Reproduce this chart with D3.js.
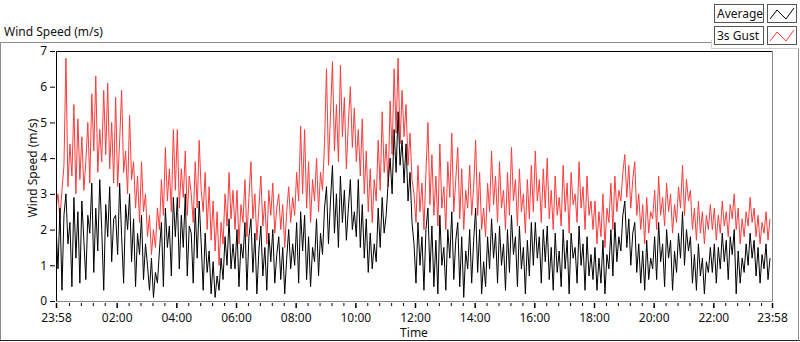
<!DOCTYPE html>
<html><head><meta charset="utf-8">
<script src="https://cdn.jsdelivr.net/npm/d3@7"></script>
<style>
html,body{margin:0;padding:0;background:#fff;}
svg{display:block;font-family:"Noto Sans","Open Sans",sans-serif;}
</style></head>
<body><svg id="c" width="800" height="342"></svg>
<script>
// Sampling: one value every 4 minutes starting at 23:58
const stepMinutes = 4;
const gust = [
2.6,3.0,2.3,3.1,3.8,6.8,3.2,4.4,3.5,5.5,3.0,5.1,3.4,4.6,3.1,3.9,5.0,3.3,5.8,4.2,6.3,3.6,4.8,3.9,5.9,4.1,6.1,3.7,5.0,3.3,
5.7,3.2,4.5,5.9,3.6,4.2,3.0,5.2,3.4,3.9,2.6,3.5,2.2,3.9,2.5,3.0,1.8,2.4,1.3,2.0,1.5,2.6,2.0,3.4,2.4,4.3,2.8,3.7,2.5,4.8,
3.1,4.8,2.6,3.7,2.9,4.2,2.4,3.5,3.0,2.2,3.9,2.6,4.5,3.1,2.5,3.6,2.0,3.2,1.7,2.8,1.4,2.5,1.0,2.2,1.6,3.0,2.1,3.6,2.3,3.1,
2.0,3.1,1.6,2.7,2.2,3.4,1.8,2.9,3.9,2.3,3.0,1.7,2.6,3.5,2.1,2.8,1.6,3.1,2.4,3.3,1.9,2.6,3.0,2.0,2.7,1.5,2.5,3.2,2.2,2.9,
2.4,3.6,2.8,4.9,3.0,4.8,2.6,3.9,2.2,3.4,2.8,4.0,2.5,3.6,3.1,4.4,6.5,3.8,5.2,6.7,4.2,5.5,3.9,6.6,4.6,5.7,3.7,5.0,6.0,4.3,
5.4,3.9,4.8,3.5,5.1,3.0,4.2,2.5,3.7,2.2,3.4,2.8,4.5,3.1,5.3,3.6,4.4,3.2,5.6,4.1,6.5,4.7,6.8,4.4,5.9,4.6,5.5,3.8,4.7,3.4,
3.0,2.2,3.8,2.5,3.3,2.0,3.6,5.0,2.7,4.1,2.4,3.5,2.1,4.4,2.6,3.2,2.0,3.9,2.9,4.7,2.5,3.4,4.3,2.3,3.7,2.0,3.1,2.6,3.8,2.4,
3.2,4.5,2.4,3.6,2.0,2.6,1.8,3.3,2.5,4.2,2.7,3.5,2.2,3.9,2.6,3.1,2.0,3.6,2.4,4.3,2.8,3.4,2.1,3.7,2.5,3.0,1.9,3.4,2.3,3.8,
2.5,4.2,2.8,3.4,2.2,3.7,2.6,4.0,2.3,3.1,2.0,3.5,2.4,2.9,2.1,3.8,2.5,3.3,1.9,3.6,2.7,3.0,2.2,3.9,2.6,3.2,2.0,3.5,2.4,2.8,
2.0,2.8,1.6,2.5,1.8,3.0,1.5,2.6,2.2,3.3,2.0,3.5,2.5,3.1,2.8,3.6,4.1,2.9,3.8,2.6,3.4,3.9,2.4,3.0,2.0,2.7,1.6,2.9,1.9,2.5,
2.3,3.1,2.0,3.5,2.4,2.9,2.1,3.3,2.5,3.0,1.9,2.7,2.2,3.2,2.6,3.8,2.4,3.4,2.8,3.1,2.0,2.6,1.7,2.8,1.9,2.5,1.6,2.4,2.0,2.7,
2.0,2.6,1.7,2.4,1.9,2.8,2.1,2.5,1.8,2.7,2.3,3.0,2.0,2.6,1.6,2.3,1.8,2.5,2.1,2.9,2.2,2.6,1.8,2.4,1.6,2.2,1.9,2.5,1.7,2.3
];
const average = [
2.1,0.9,2.6,0.3,2.4,3.0,1.6,2.2,0.4,2.9,1.2,2.5,0.5,2.8,1.7,0.6,2.4,1.9,3.3,0.8,2.6,1.4,3.4,2.0,0.3,2.7,1.8,3.2,1.1,2.3,
2.4,1.3,3.3,1.8,0.5,2.7,2.0,3.0,1.1,2.3,0.4,1.9,1.3,2.4,0.6,1.6,1.0,0.3,1.2,0.1,0.8,0.5,1.4,2.2,0.4,2.6,1.5,2.1,0.7,2.9,
1.8,2.9,0.9,2.4,1.5,3.0,0.7,2.1,1.9,0.5,2.6,1.2,2.8,1.6,0.3,1.9,0.8,1.4,0.2,1.1,0.1,0.7,0.3,1.2,0.6,1.8,1.0,2.3,0.9,1.6,
0.9,2.0,0.4,1.6,1.2,2.2,0.3,1.8,2.3,0.8,1.9,0.2,1.4,2.1,0.7,1.5,0.3,1.9,1.1,2.0,0.5,1.3,1.8,0.6,1.5,0.2,1.2,2.0,0.9,1.6,
1.0,2.2,0.5,2.5,1.4,2.4,0.6,1.8,0.4,1.5,1.1,2.3,0.7,1.9,1.3,2.6,3.2,1.6,2.8,3.8,1.9,3.0,1.5,3.5,2.2,3.1,1.7,2.6,3.4,2.0,
2.5,1.8,3.4,1.5,2.7,1.2,2.3,0.8,1.9,0.9,1.6,1.1,2.6,1.5,2.9,1.9,2.4,3.3,4.0,3.0,4.8,3.6,5.3,3.8,4.5,3.3,4.4,2.8,3.6,2.2,
1.6,0.5,2.2,1.0,1.8,0.3,2.0,2.6,0.8,2.1,0.4,1.7,0.2,2.4,1.0,1.5,0.3,2.0,1.2,2.5,0.6,1.7,2.2,0.4,1.8,0.1,1.4,0.9,2.0,0.5,
1.7,2.6,0.8,2.0,0.2,1.1,0.4,1.8,0.9,2.3,1.2,1.9,0.5,2.1,1.0,1.6,0.3,2.0,0.8,2.4,1.3,1.8,0.4,2.1,0.9,1.5,0.2,1.7,0.7,2.2,
1.0,2.2,1.2,1.8,0.5,2.0,1.1,2.1,0.6,1.5,0.3,1.9,0.8,1.4,0.4,2.0,0.9,1.7,0.2,1.9,1.2,1.5,0.5,2.1,1.0,1.6,0.3,1.8,0.7,1.3,
0.6,1.5,0.3,1.2,0.5,1.7,0.2,1.3,0.9,2.0,0.7,2.2,1.1,1.8,1.4,2.4,2.8,1.5,2.3,1.0,1.9,2.2,0.8,1.6,0.5,1.4,0.3,1.7,0.6,1.2,
0.9,1.8,0.6,2.2,1.1,1.6,0.4,2.0,1.2,1.7,0.3,1.4,0.8,1.9,1.2,2.5,1.0,2.0,1.4,1.8,0.5,1.3,0.3,1.6,0.7,1.2,0.2,1.1,0.8,1.5,
0.8,1.6,0.5,1.5,0.9,1.9,1.1,1.7,0.6,1.8,1.3,2.0,0.2,1.4,0.5,1.2,0.8,1.6,1.0,1.9,1.2,1.7,0.7,1.5,0.5,1.3,0.9,1.6,0.6,1.2
];
const seriesNames = ["Average", "3s Gust"];
const xTickMinutes = [0,122,242,362,482,602,722,842,962,1082,1202,1322,1440];
const xTickLabels = ["23:58","02:00","04:00","06:00","08:00","10:00","12:00","14:00","16:00","18:00","20:00","22:00","23:58"];
const yTicks = [0,1,2,3,4,5,6,7];
const chartTitle = "Wind Speed (m/s)";
const yTitle = "Wind Speed (m/s)";
const xTitle = "Time";

const svg = d3.select("#c");
const L = 56, R = 772, T = 51, B = 301;
const x = d3.scaleLinear().domain([0,1440]).range([L,R]);
const y = d3.scaleLinear().domain([0,7]).range([B,T]);

// outer frame
svg.append("line").attr("x1",0).attr("x2",711).attr("y1",42.5).attr("y2",42.5).attr("stroke","#8c8c8c");
svg.append("line").attr("x1",0.5).attr("x2",0.5).attr("y1",42).attr("y2",341).attr("stroke","#8c8c8c");
svg.append("line").attr("x1",0).attr("x2",800).attr("y1",340.5).attr("y2",340.5).attr("stroke","#222");
svg.append("line").attr("x1",798.5).attr("x2",798.5).attr("y1",48).attr("y2",341).attr("stroke","#8c8c8c");
svg.append("line").attr("x1",711.5).attr("x2",711.5).attr("y1",40).attr("y2",49).attr("stroke","#d0d0d0");
svg.append("line").attr("x1",711).attr("x2",799).attr("y1",48.5).attr("y2",48.5).attr("stroke","#d0d0d0");

svg.append("text").attr("x",4).attr("y",36).attr("font-size",12).attr("fill","#111").text(chartTitle);

// series
const data = gust.map((g,i)=>({t:i*stepMinutes, g:g, a:average[i]}));
const clip = svg.append("clipPath").attr("id","pc").append("rect").attr("x",L).attr("y",T).attr("width",R-L).attr("height",B-T);
const gPlot = svg.append("g").attr("clip-path","url(#pc)");
gPlot.append("path").datum(data).attr("fill","none").attr("stroke","#ff3a3a").attr("stroke-width",1)
  .attr("d", d3.line().x(d=>x(d.t)).y(d=>y(d.g)));
gPlot.append("path").datum(data).attr("fill","none").attr("stroke","#000").attr("stroke-width",1)
  .attr("d", d3.line().x(d=>x(d.t)).y(d=>y(d.a)));

// plot frame
svg.append("line").attr("x1",L+0.5).attr("x2",L+0.5).attr("y1",T).attr("y2",B+1).attr("stroke","#000");
svg.append("line").attr("x1",L).attr("x2",R).attr("y1",T+0.5).attr("y2",T+0.5).attr("stroke","#000");
svg.append("line").attr("x1",R+0.5).attr("x2",R+0.5).attr("y1",T).attr("y2",B+1).attr("stroke","#8c8c8c");
svg.append("line").attr("x1",L).attr("x2",R+1).attr("y1",B+0.5).attr("y2",B+0.5).attr("stroke","#8c8c8c");

// y axis
const ya = d3.axisLeft(y).tickValues(yTicks).tickSize(5).tickPadding(3).tickFormat(d3.format("d"));
const yg = svg.append("g").attr("transform",`translate(${L-1},0)`).call(ya);
yg.select(".domain").remove();
yg.selectAll("text").attr("font-size",12).attr("font-family","'Noto Sans','Open Sans',sans-serif").attr("fill","#111");
svg.append("text").attr("transform",`translate(37,${(T+B)/2-8}) rotate(-90)`).attr("text-anchor","middle")
  .attr("font-size",12).attr("fill","#111").text(yTitle);

// x axis
const minor = [];
for (let m = 2; m < 1440; m += 24) {
  if (xTickMinutes.some(v=>Math.abs(v-m)<8)) continue;
  minor.push(m);
}
const xm = d3.axisBottom(x).tickValues(minor).tickSize(3).tickFormat("");
const xmg = svg.append("g").attr("transform",`translate(0,${B+2})`).call(xm);
xmg.select(".domain").remove();
const xa = d3.axisBottom(x).tickValues(xTickMinutes).tickSize(5).tickPadding(5)
  .tickFormat((d,i)=>xTickLabels[i]);
const xg = svg.append("g").attr("transform",`translate(0,${B+2})`).call(xa);
xg.select(".domain").remove();
xg.selectAll("line").attr("stroke-width",1.5);
xg.selectAll("text").attr("font-size",12).attr("font-family","'Noto Sans','Open Sans',sans-serif").attr("fill","#111");
svg.append("text").attr("x",414).attr("y",337).attr("text-anchor","middle").attr("font-size",12).attr("fill","#111").text(xTitle);

// legend
const legColors = ["#000","#ff3a3a"];
seriesNames.forEach((n,i)=>{
  const y0 = 4 + i*22;
  svg.append("rect").attr("x",714.5).attr("y",y0+0.5).attr("width",49).attr("height",18).attr("fill","#fff").attr("stroke","#555");
  svg.append("text").attr("x",717).attr("y",y0+14).attr("font-size",12).attr("fill","#111").text(n);
  svg.append("rect").attr("x",767.5).attr("y",y0+0.5).attr("width",29).attr("height",18).attr("fill","#fff").attr("stroke","#555");
  svg.append("path").attr("fill","none").attr("stroke",legColors[i]).attr("stroke-width",1)
    .attr("d",`M770,${y0+15} L777,${y0+6} L786,${y0+15} L794,${y0+4}`);
});
</script></body></html>
